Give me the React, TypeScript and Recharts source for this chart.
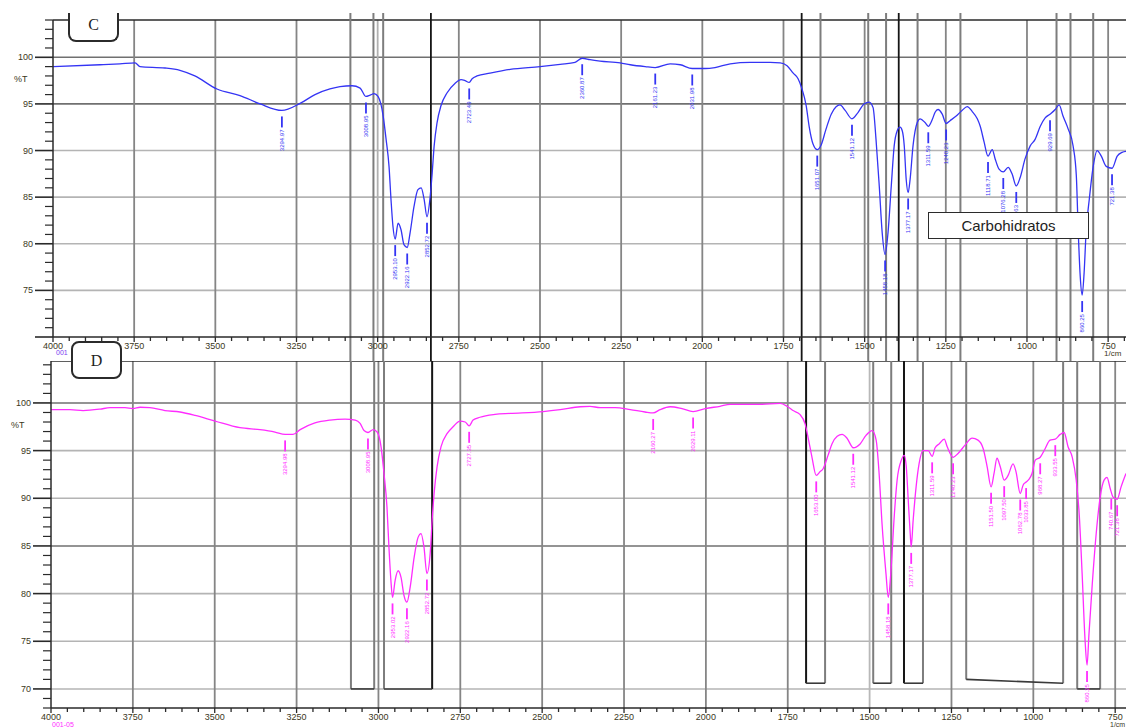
import React from 'react';
import { ComposedChart, Line, XAxis, YAxis, ReferenceLine, ReferenceDot } from 'recharts';

// ---------- Spectrum C (blue) ----------
const wavenumbersC = [
  4000, 3855, 3794, 3747, 3732, 3655, 3609, 3563, 3495, 3424, 3362, 3295, 3239, 3193, 3147, 3116,
  3079, 3054, 3036, 3023, 3011, 2999, 2983, 2974, 2965, 2959, 2953, 2946, 2937, 2928, 2919, 2909,
  2900, 2888, 2876, 2866, 2857, 2848, 2839, 2832, 2826, 2817, 2805, 2786, 2762, 2743, 2731, 2718,
  2709, 2694, 2654, 2592, 2500, 2438, 2392, 2370, 2346, 2315, 2253, 2222, 2176, 2145, 2099, 2068,
  2031, 1991, 1961, 1914, 1853, 1791, 1760, 1739, 1720, 1705, 1693, 1680, 1671, 1659, 1646, 1634,
  1619, 1603, 1588, 1576, 1560, 1539, 1520, 1502, 1486, 1474, 1465, 1455, 1446, 1437, 1428, 1418,
  1409, 1400, 1391, 1384, 1378, 1372, 1366, 1360, 1351, 1338, 1329, 1314, 1304, 1292, 1283, 1274,
  1261, 1249, 1237, 1218, 1200, 1184, 1169, 1153, 1144, 1132, 1120, 1107, 1098, 1086, 1073, 1058,
  1046, 1033, 1021, 1006, 990, 975, 959, 944, 929, 913, 901, 889, 873, 858, 848, 842,
  836, 830, 824, 818, 808, 796, 784, 771, 756, 738, 722, 707, 695,
];
const transmittanceC = [
  99.0, 99.2, 99.3, 99.4, 99.0, 98.85, 98.6, 98.0, 96.6, 95.9, 95.0, 94.3, 95.05, 96.0, 96.6, 96.85,
  96.95, 96.7, 95.8, 95.95, 96.1, 95.8, 93.7, 91.2, 88.3, 84.8, 81.9, 80.5, 82.2, 81.5, 79.9, 79.6,
  81.2, 84.0, 85.8, 86.0, 84.8, 82.9, 84.8, 87.6, 90.5, 93.0, 94.8, 96.2, 97.2, 97.6, 97.5, 97.3,
  97.7, 98.0, 98.3, 98.7, 99.0, 99.25, 99.45, 99.9, 99.75, 99.6, 99.4, 99.2, 99.0, 98.9, 99.3, 99.2,
  98.8, 98.8, 98.9, 99.3, 99.45, 99.45, 99.4, 99.1, 98.3, 97.7, 96.6, 94.8, 92.6, 90.7, 90.1, 90.6,
  92.3, 93.9, 94.7, 94.9, 94.3, 93.4, 94.1, 95.0, 95.2, 94.6, 91.2, 86.2, 81.2, 78.85, 81.2, 86.2,
  90.5, 92.1, 92.5, 92.1, 90.5, 86.9, 85.5, 86.9, 90.5, 93.0, 93.4, 93.0, 92.6, 93.3, 94.1, 94.4,
  93.9, 92.9, 93.2, 93.7, 94.3, 94.7, 94.2, 93.4, 92.6, 90.9, 89.4, 90.1, 89.1, 88.0, 87.7, 88.2,
  87.5, 86.2, 87.1, 89.1, 90.5, 91.2, 92.6, 93.5, 93.9, 94.4, 94.9, 93.7, 92.3, 90.5, 87.3, 81.2,
  76.5, 74.5, 76.9, 81.2, 84.8, 88.3, 90.0, 89.4, 88.3, 88.1, 89.4, 89.8, 89.9,
];

// ---------- Spectrum D (magenta) ----------
const wavenumbersD = [
  4000, 3942, 3902, 3850, 3820, 3774, 3750, 3728, 3698, 3652, 3606, 3560, 3499, 3423, 3362, 3316,
  3285, 3261, 3239, 3194, 3148, 3102, 3071, 3056, 3044, 3032, 3016, 3004, 2992, 2983, 2974, 2968,
  2962, 2957, 2949, 2940, 2931, 2922, 2913, 2903, 2891, 2879, 2870, 2861, 2852, 2842, 2836, 2830,
  2821, 2809, 2790, 2772, 2751, 2735, 2723, 2711, 2690, 2644, 2598, 2497, 2445, 2384, 2354, 2323,
  2277, 2231, 2186, 2161, 2140, 2109, 2073, 2039, 2002, 1957, 1926, 1834, 1773, 1752, 1734, 1713,
  1697, 1688, 1676, 1663, 1651, 1642, 1627, 1615, 1599, 1584, 1569, 1550, 1529, 1511, 1492, 1480,
  1471, 1462, 1450, 1443, 1434, 1425, 1416, 1403, 1394, 1388, 1382, 1376, 1373, 1367, 1358, 1349,
  1337, 1321, 1309, 1300, 1288, 1272, 1263, 1245, 1230, 1208, 1187, 1169, 1153, 1141, 1129, 1120,
  1111, 1101, 1089, 1077, 1062, 1053, 1040, 1031, 1022, 1013, 1004, 994, 979, 964, 949, 933,
  918, 906, 894, 881, 869, 860, 851, 842, 836, 830, 820, 808, 796, 784, 775, 765,
  756, 744, 732, 717,
];
const transmittanceD = [
  99.3, 99.3, 99.2, 99.35, 99.5, 99.5, 99.4, 99.55, 99.5, 99.2, 99.05, 98.7, 98.1, 97.4, 97.2, 96.95,
  96.7, 96.7, 97.2, 97.9, 98.2, 98.3, 98.2, 97.85, 97.1, 96.9, 97.2, 96.95, 95.4, 92.6, 89.1, 84.9,
  81.4, 79.6, 81.4, 82.4, 81.7, 79.8, 79.1, 80.7, 83.8, 85.9, 86.3, 84.9, 82.1, 84.2, 87.7, 90.5,
  93.3, 95.4, 96.8, 97.5, 98.1, 98.0, 97.6, 98.2, 98.5, 98.8, 98.9, 99.1, 99.3, 99.6, 99.65, 99.5,
  99.5, 99.3, 99.05, 98.95, 99.3, 99.6, 99.4, 99.1, 99.4, 99.65, 99.85, 99.85, 99.95, 99.65, 99.2, 98.8,
  97.8, 96.4, 94.3, 92.4, 92.8, 93.1, 94.5, 95.7, 96.5, 96.7, 96.3, 95.3, 95.7, 96.6, 97.1, 96.1,
  92.6, 87.3, 82.1, 79.6, 82.8, 88.0, 91.9, 94.0, 94.5, 93.3, 89.8, 86.3, 84.9, 87.7, 91.2, 93.6,
  95.0, 95.0, 94.4, 95.3, 95.7, 96.2, 95.4, 94.3, 94.7, 95.6, 96.3, 96.1, 95.2, 93.3, 91.2, 92.6,
  94.2, 93.3, 91.9, 92.4, 93.6, 92.8, 90.5, 91.4, 91.7, 92.0, 92.6, 94.0, 94.3, 95.2, 96.1, 96.2,
  96.7, 96.9, 95.4, 94.3, 91.9, 88.4, 82.1, 75.1, 72.5, 75.8, 81.0, 86.3, 90.1, 91.9, 92.2, 91.0,
  90.1, 89.9, 91.2, 92.6,
];

// ---------- Peak annotations ----------
const peakWavenumbersC = [3295, 3036, 2946, 2909, 2848, 2718, 2370, 2145, 2031, 1646, 1539, 1437, 1366, 1304, 1249, 1120, 1073, 1033, 929, 830, 738];
const peakTransmittanceC = [94.3, 95.8, 80.5, 79.6, 82.9, 97.3, 99.9, 98.9, 98.8, 90.1, 93.4, 78.85, 85.5, 92.6, 92.9, 89.4, 87.7, 86.2, 93.9, 74.5, 88.1];
const peakLabelsC = ['3294.97', '3008.95', '2953.10', '2922.16', '2852.72', '2723.49', '2360.87', '2161.23', '2031.98', '1651.07', '1541.12', '1458.18', '1377.17', '1311.59', '1240.23', '1118.71', '1076.28', '1039.63', '929.69', '860.25', '721.38'];

const peakWavenumbersD = [3285, 3032, 2957, 2913, 2852, 2723, 2161, 2039, 1663, 1550, 1443, 1373, 1309, 1245, 1129, 1089, 1040, 1022, 979, 933, 836, 762, 744];
const peakTransmittanceD = [96.7, 96.9, 79.6, 79.1, 82.1, 97.6, 98.95, 99.1, 92.4, 95.3, 79.6, 84.9, 94.4, 94.3, 91.2, 91.9, 90.5, 91.7, 94.3, 96.2, 72.5, 90.6, 89.9];
const peakLabelsD = ['3294.98', '3008.95', '2953.02', '2922.16', '2852.72', '2727.35', '2160.27', '2029.11', '1653.00', '1541.12', '1458.18', '1377.17', '1311.59', '1240.23', '1151.50', '1097.50', '1062.78', '1033.85', '968.27', '933.55', '860.25', '740.67', '721.38'];

// ---------- Axes ----------
const xMajorTicks = [4000, 3750, 3500, 3250, 3000, 2750, 2500, 2250, 2000, 1750, 1500, 1250, 1000, 750];
const yLabelsC = [100, 95, 90, 85, 80, 75];
const yLabelsD = [100, 95, 90, 85, 80, 75, 70];

// highlighted regions (wavenumber ranges) drawn across both spectra
const bandStarts = [3084, 2983, 1694, 1489, 1395, 1205, 866];
const bandEnds = [3013, 2836, 1636, 1434, 1337, 909, 796];
const bandBottomStartD = [70.0, 70.0, 70.6, 70.6, 70.6, 71.0, 70.0];
const bandBottomEndD = [70.0, 70.0, 70.6, 70.6, 70.6, 70.6, 70.0];
const darkEdges = [2836, 1694, 1395];

const toSeries = (w: number[], t: number[]) => w.map((v, i) => ({ w: v, t: t[i] }));
const seriesC = toSeries(wavenumbersC, transmittanceC);
const seriesD = toSeries(wavenumbersD, transmittanceD);

const minorX = (min: number) => {
  const out: number[] = [];
  for (let v = 4000; v >= min; v -= 50) out.push(v);
  return out;
};
const minorY = (lo: number, hi: number) => {
  const out: number[] = [];
  for (let v = lo; v <= hi; v += 1) out.push(v);
  return out;
};

const BLUE = '#3434f4';
const MAGENTA = '#ff2cff';
const AXIS = '#2a2a2a';
const LABEL = '#3b3722';

const XTick = (props: any) => {
  const { x, y, payload } = props;
  const v = payload.value;
  const major = v % 250 === 0;
  return (
    <g>
      <line x1={x} x2={x} y1={y} y2={y + (major ? 5 : 4)} stroke={AXIS} strokeWidth={1.3} />
      {major && (
        <text x={x} y={y + 12} textAnchor="middle" fontSize={9} fill={LABEL} fontFamily="Liberation Sans, Arial, sans-serif">
          {v}
        </text>
      )}
    </g>
  );
};

const makeYTick = (labels: number[]) => (props: any) => {
  const { x, y, payload } = props;
  const v = payload.value;
  const major = v % 5 === 0;
  return (
    <g>
      <line x1={x - (major ? 18 : 8)} x2={x} y1={y} y2={y} stroke={AXIS} strokeWidth={major ? 1.6 : 1.2} />
      {major && labels.includes(v) && (
        <text x={x - 20} y={y + 3} textAnchor="end" fontSize={9} fill={LABEL} fontFamily="Liberation Sans, Arial, sans-serif">
          {v}
        </text>
      )}
    </g>
  );
};

const PeakMark = ({ cx, cy, text, color }: any) => {
  if (cx == null || cy == null) return null;
  return (
    <g>
      <line x1={cx} x2={cx} y1={cy + 6} y2={cy + 17} stroke={color} strokeWidth={1.8} />
      <text
        x={cx}
        y={cy + 19}
        transform={`rotate(-90 ${cx} ${cy + 19})`}
        textAnchor="end"
        dy={2}
        fontSize={6}
        fill={color}
        fontFamily="Liberation Sans, Arial, sans-serif"
      >
        {text}
      </text>
    </g>
  );
};

const edgeColor = (w: number) => (darkEdges.includes(w) ? '#151515' : '#7d7d7d');

const gridX = xMajorTicks.filter((v) => v !== 4000);

export default function App() {
  const yTickC = makeYTick(yLabelsC);
  const yTickD = makeYTick(yLabelsD);
  const edges: number[] = [...bandStarts, ...bandEnds];
  const font = 'Liberation Sans, Arial, sans-serif';

  return (
    <div
      style={{
        position: 'fixed',
        left: 0,
        top: 0,
        width: 1126,
        height: 727,
        overflow: 'hidden',
        background: '#fff',
        fontFamily: font,
      }}
    >
      {/* Spectrum C */}
      <div style={{ position: 'absolute', left: 0, top: 0 }}>
        <ComposedChart width={1126} height={361} margin={{ top: 20, right: 0, bottom: 0, left: 0 }}>
          <XAxis
            type="number"
            dataKey="w"
            domain={[695, 4000]}
            reversed
            allowDataOverflow
            ticks={minorX(700)}
            interval={0}
            tickLine={false}
            tickSize={0}
            tickMargin={0}
            height={24}
            axisLine={{ stroke: AXIS, strokeWidth: 1.5 }}
            tick={<XTick />}
          />
          <YAxis
            type="number"
            domain={[70, 104]}
            allowDataOverflow
            ticks={minorY(70, 104)}
            interval={0}
            width={53}
            tickLine={false}
            tickSize={0}
            tickMargin={0}
            axisLine={{ stroke: AXIS, strokeWidth: 1.5 }}
            tick={yTickC}
          />
          {[100, 95, 90, 85, 80, 75].map((v) => (
            <ReferenceLine key={'hc' + v} y={v} stroke={v >= 95 ? '#707070' : '#b4b4b4'} strokeWidth={1.6} />
          ))}
          {gridX.map((v) => (
            <ReferenceLine key={'vc' + v} x={v} stroke={v === 3000 ? '#b0b0b0' : '#858585'} strokeWidth={1.8} />
          ))}
          <ReferenceLine y={104} stroke={AXIS} strokeWidth={1.5} />
          {edges.map((w) => (
            <ReferenceLine
              key={'ec' + w}
              segment={[{ x: w, y: 104.75 }, { x: w, y: 66.5 }]}
              ifOverflow="visible"
              stroke={edgeColor(w)}
              strokeWidth={darkEdges.includes(w) ? 1.8 : 2}
            />
          ))}
          <Line data={seriesC} dataKey="t" type="monotone" stroke={BLUE} strokeWidth={1.3} dot={false} isAnimationActive={false} />
          {peakWavenumbersC.map((w, i) => (
            <ReferenceDot
              key={'pc' + i}
              x={w}
              y={peakTransmittanceC[i]}
              ifOverflow="visible"
              shape={(p: any) => <PeakMark cx={p.cx} cy={p.cy} text={peakLabelsC[i]} color={BLUE} />}
            />
          ))}
        </ComposedChart>
      </div>

      {/* Spectrum D */}
      <div style={{ position: 'absolute', left: 0, top: 361 }}>
        <ComposedChart width={1126} height={366} margin={{ top: 0, right: 0, bottom: 0, left: 0 }}>
          <XAxis
            type="number"
            dataKey="w"
            domain={[717, 4000]}
            reversed
            allowDataOverflow
            ticks={minorX(750)}
            interval={0}
            tickLine={false}
            tickSize={0}
            tickMargin={0}
            height={19}
            axisLine={{ stroke: AXIS, strokeWidth: 1.5 }}
            tick={<XTick />}
          />
          <YAxis
            type="number"
            domain={[68, 104.4]}
            allowDataOverflow
            ticks={minorY(68, 104)}
            interval={0}
            width={51}
            tickLine={false}
            tickSize={0}
            tickMargin={0}
            axisLine={{ stroke: AXIS, strokeWidth: 1.5 }}
            tick={yTickD}
          />
          {[100, 95, 90, 85, 80, 75, 70].map((v) => (
            <ReferenceLine key={'hd' + v} y={v} stroke={v === 100 || v === 85 ? '#707070' : '#b4b4b4'} strokeWidth={1.6} />
          ))}
          {gridX.map((v) => (
            <ReferenceLine key={'vd' + v} x={v} stroke={v === 1500 ? '#b8b8b8' : '#858585'} strokeWidth={1.8} />
          ))}
          <ReferenceLine y={104.4} stroke={AXIS} strokeWidth={1.5} />
          {bandStarts.map((w, i) => (
            <ReferenceLine
              key={'sd' + w}
              segment={[{ x: w, y: 104.4 }, { x: w, y: bandBottomStartD[i] }]}
              ifOverflow="visible"
              stroke={edgeColor(w)}
              strokeWidth={2}
            />
          ))}
          {bandEnds.map((w, i) => (
            <ReferenceLine
              key={'ed' + w}
              segment={[{ x: w, y: 104.4 }, { x: w, y: bandBottomEndD[i] }]}
              ifOverflow="visible"
              stroke={edgeColor(w)}
              strokeWidth={2}
            />
          ))}
          {bandStarts.map((w, i) => (
            <ReferenceLine
              key={'bd' + w}
              segment={[{ x: w, y: bandBottomStartD[i] }, { x: bandEnds[i], y: bandBottomEndD[i] }]}
              ifOverflow="visible"
              stroke="#3a3a3a"
              strokeWidth={1.6}
            />
          ))}
          <Line data={seriesD} dataKey="t" type="monotone" stroke={MAGENTA} strokeWidth={1.3} dot={false} isAnimationActive={false} />
          {peakWavenumbersD.map((w, i) => (
            <ReferenceDot
              key={'pd' + i}
              x={w}
              y={peakTransmittanceD[i]}
              ifOverflow="visible"
              shape={(p: any) => <PeakMark cx={p.cx} cy={p.cy} text={peakLabelsD[i]} color={MAGENTA} />}
            />
          ))}
        </ComposedChart>
      </div>

      {/* Axis captions */}
      <div style={{ position: 'absolute', left: 14, top: 74, fontSize: 9, color: LABEL }}>%T</div>
      <div style={{ position: 'absolute', left: 11, top: 420, fontSize: 9, color: LABEL }}>%T</div>
      <div style={{ position: 'absolute', left: 56, top: 349, fontSize: 7, color: '#7a3cf0' }}>001</div>
      <div style={{ position: 'absolute', left: 52, top: 721, fontSize: 7, color: MAGENTA }}>001-05</div>
      <div style={{ position: 'absolute', left: 1104, top: 349, fontSize: 8, color: LABEL }}>1/cm</div>
      <div style={{ position: 'absolute', left: 1110, top: 721, fontSize: 7, color: LABEL }}>1/cm</div>

      {/* Panel tags */}
      <div
        style={{
          position: 'absolute',
          left: 68,
          top: 13,
          width: 47,
          height: 27,
          border: '2px solid #2b2b2b',
          borderTop: 'none',
          borderRadius: '0 0 8px 8px',
          background: '#fff',
          textAlign: 'center',
          fontFamily: 'Liberation Serif, "DejaVu Serif", serif',
          fontSize: 16,
          lineHeight: '24px',
          color: '#1e1e1e',
        }}
      >
        C
      </div>
      <div
        style={{
          position: 'absolute',
          left: 71,
          top: 341,
          width: 47,
          height: 34,
          border: '2px solid #2b2b2b',
          borderRadius: 8,
          background: '#fff',
          textAlign: 'center',
          fontFamily: 'Liberation Serif, "DejaVu Serif", serif',
          fontSize: 16,
          lineHeight: '36px',
          color: '#1e1e1e',
        }}
      >
        D
      </div>
      <div
        style={{
          position: 'absolute',
          left: 928,
          top: 212,
          width: 159,
          height: 25,
          border: '1.5px solid #2b2b2b',
          background: '#fff',
          textAlign: 'center',
          fontFamily: font,
          fontSize: 15,
          lineHeight: '26px',
          color: '#1e1e1e',
        }}
      >
        Carbohidratos
      </div>
    </div>
  );
}
